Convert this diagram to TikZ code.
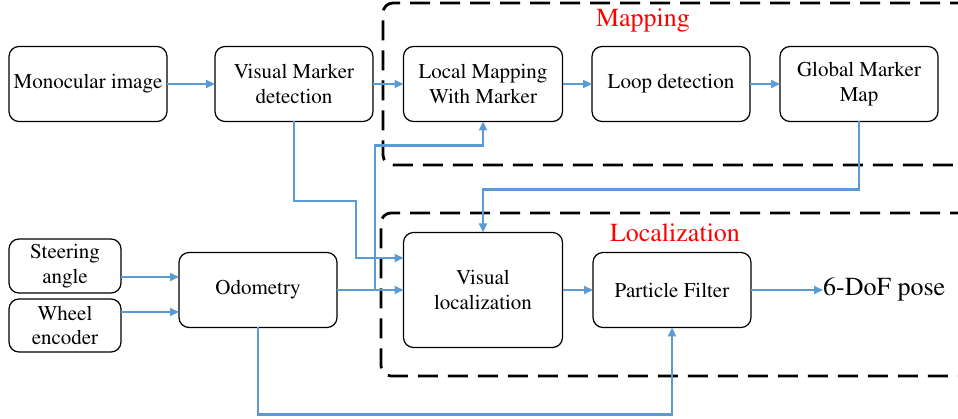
\documentclass[tikz,border=0pt]{standalone}
\usepackage[T1]{fontenc}
\usepackage{times}
\usetikzlibrary{arrows.meta}
\definecolor{lblue}{HTML}{5B9BD5}
\begin{document}
\begin{tikzpicture}[x=1pt,y=-1pt,
 box/.style={draw, rounded corners=10pt, line width=1.2pt, align=center, font=\rmfamily\fontsize{21}{24.5}\selectfont, inner sep=0pt, outer sep=0pt},
 conn/.style={draw=lblue, line width=2.2pt, -{Triangle[length=9pt,width=8pt]}},
 region/.style={draw, line width=2.8pt, dash pattern=on 20pt off 10pt, rounded corners=10pt},
 lab/.style={text=red, font=\rmfamily\fontsize{26}{30}\selectfont, inner sep=0pt}]
\useasboundingbox (0,0) rectangle (958,419);
\clip (0,0) rectangle (958,419);
% dashed regions
\draw[region] (1000,3) -- (383,3) -- (383,165) -- (1000,165);
\draw[region] (1000,213) -- (381,213) -- (381,376) -- (1000,376);
\node[lab] (maplab) at (643,21) {Mapping};
\node[lab] (loclab) at (675,233) {Localization};
% nodes
\node[box, minimum width=158pt, minimum height=75pt] (mono) at (88,84) {Monocular image};
\node[box, minimum width=158pt, minimum height=75pt] (vmd) at (294,84) {Visual Marker\\detection};
\node[box, minimum width=159pt, minimum height=75pt] (local) at (483,84) {Local Mapping\\With Marker};
\node[box, minimum width=158pt, minimum height=75pt] (loop) at (671,84) {Loop detection};
\node[box, minimum width=158pt, minimum height=75pt] (global) at (859,84) {Global Marker\\Map};
\node[box, minimum width=112pt, minimum height=54pt] (steer) at (65,266) {Steering\\angle};
\node[box, minimum width=112pt, minimum height=53pt] (wheel) at (65,325.5) {Wheel\\encoder};
\node[box, minimum width=158pt, minimum height=75pt] (odo) at (258,290) {Odometry};
\node[box, minimum width=159pt, minimum height=115pt] (vloc) at (483,290) {Visual\\localization};
\node[box, minimum width=158pt, minimum height=75pt] (pf) at (672,290) {Particle Filter};
\node[anchor=west, inner sep=0pt, font=\rmfamily\fontsize{26}{30}\selectfont] (pose) at (823,290) {6-DoF pose};
\coordinate (br) at (375,290);
% connectors
\draw[conn] (mono) -- (vmd);
\draw[conn] (vmd) -- (local);
\draw[conn] (local) -- (loop);
\draw[conn] (loop) -- (global);
\draw[conn] ([yshift=-11pt]steer.east) -- ([yshift=-11pt]steer.east -| odo.west);
\draw[conn] ([yshift=13.5pt]wheel.east) -- ([yshift=13.5pt]wheel.east -| odo.west);
\draw[conn] (odo) -- (vloc);
\draw[conn] (vmd.south) |- (356,201) |- ([yshift=32pt]vloc.west);
\draw[conn] (br) |- ([yshift=-24pt]local.south) -- (local.south);
\draw[conn] (global.south) |- ([yshift=43pt]vloc.north) -- (vloc.north);
\draw[conn] (vloc) -- (pf);
\draw[conn, line width=1.8pt] (pf) -- (pose);
\draw[conn] (odo.south) |- ([yshift=-87pt]pf.south) -- (pf.south);
\end{tikzpicture}
\end{document}
